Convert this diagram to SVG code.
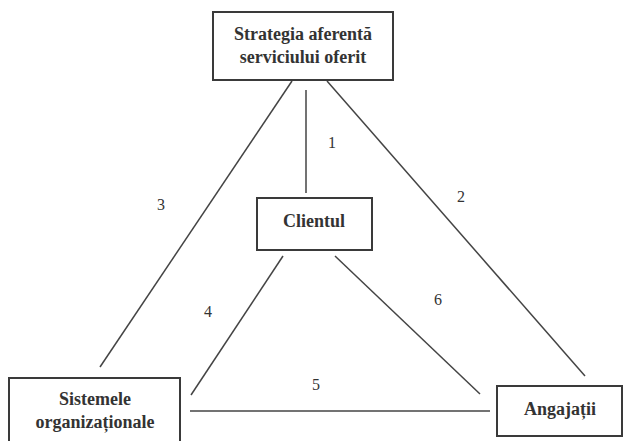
<svg xmlns="http://www.w3.org/2000/svg" width="627" height="441" viewBox="0 0 627 441">
<style>
.box{fill:#fff;stroke:#3a3a3a;stroke-width:2}
.t{font-family:"Liberation Serif",serif;font-weight:bold;font-size:18px;fill:#333;text-anchor:middle}
.n{font-family:"Liberation Serif",serif;font-size:16px;fill:#333;text-anchor:middle}
.c line{stroke:#444;stroke-width:1.5}
</style>
<rect width="627" height="441" fill="#fff"/>
<g id="connectors" class="c">
<line x1="306" y1="90" x2="306" y2="193"/>
<line x1="327" y1="81" x2="585" y2="376"/>
<line x1="292" y1="81" x2="100" y2="367"/>
<line x1="283" y1="256" x2="191" y2="395"/>
<line x1="335" y1="256" x2="480" y2="394"/>
<line x1="190" y1="411" x2="490" y2="411"/>
<text class="n" x="332" y="148">1</text>
<text class="n" x="461" y="202">2</text>
<text class="n" x="161" y="210">3</text>
<text class="n" x="208" y="317">4</text>
<text class="n" x="316" y="390">5</text>
<text class="n" x="438" y="305">6</text>
</g>
<g id="strategia">
<rect class="box" x="213" y="12" width="180" height="68"/>
<text class="t" x="303" y="40">Strategia aferentă</text>
<text class="t" x="303" y="63">serviciului oferit</text>
</g>
<g id="clientul">
<rect class="box" x="257" y="198" width="115" height="52"/>
<text class="t" x="314" y="227">Clientul</text>
</g>
<g id="sistemele">
<rect class="box" x="9" y="378" width="171" height="70"/>
<text class="t" x="95" y="405">Sistemele</text>
<text class="t" x="95" y="428">organizaționale</text>
</g>
<g id="angajatii">
<rect class="box" x="497" y="386" width="125" height="50"/>
<text class="t" x="560" y="415">Angajații</text>
</g>
</svg>
